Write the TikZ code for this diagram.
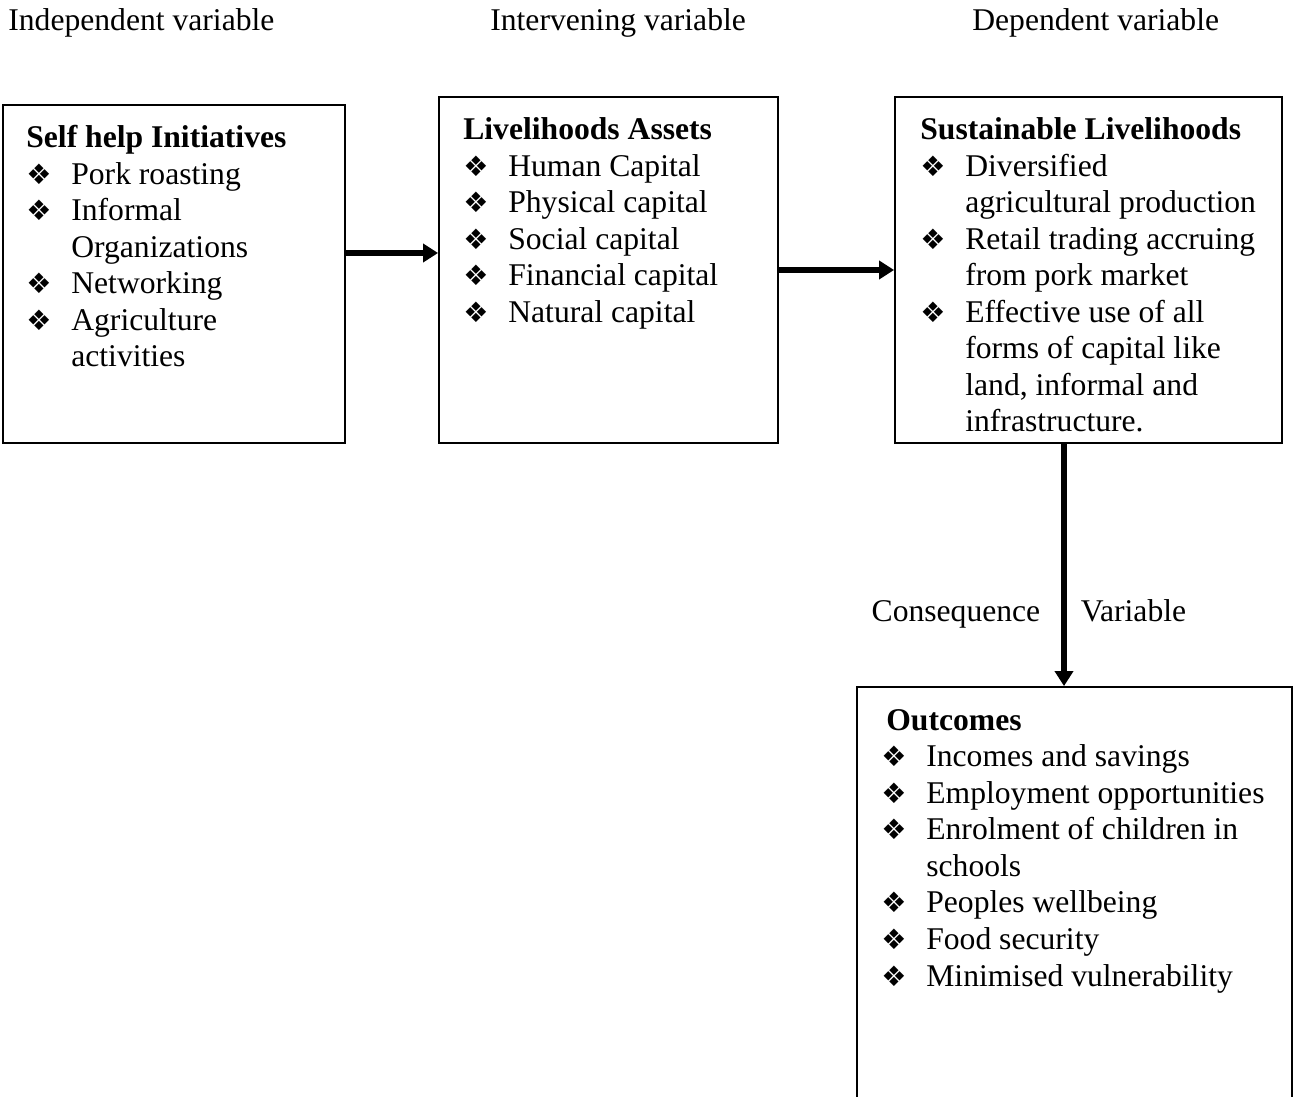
\documentclass[tikz,border=0pt]{standalone}
\usepackage{fontspec}
\setmainfont{Liberation Serif}
\newfontfamily\dingfont{DejaVu Sans}
\usetikzlibrary{positioning,arrows.meta}

\newcommand{\bul}{\makebox[0.9cm][l]{\dingfont\fontsize{16}{16}\selectfont ❖}}
\newcommand{\ind}{\hspace*{0.9cm}}

\begin{document}
\begin{tikzpicture}[
    x=0.02cm, y=-0.02cm,
    box/.style={draw, line width=1.1pt, inner sep=0pt},
    txt/.style={anchor=base west, inner sep=0pt, align=left, font=\fontsize{18}{20.8}\selectfont},
    head/.style={anchor=base west, inner sep=0pt, font=\fontsize{18}{20.8}\selectfont},
    link/.style={line width=0.11cm, -{Triangle[length=0.3cm, width=0.36cm]}}
]
\useasboundingbox (0,0) rectangle (1298,1097);

% Column headings
\node[head] (indep) at (8,31) {Independent variable};
\node[head] (interv) at (490,31) {Intervening variable};
\node[head] (dep) at (972,31) {Dependent variable};

% Boxes
\node[box, minimum width=6.84cm, minimum height=6.76cm] (SHI) at (174,274) {};
\node[box, minimum width=6.78cm, minimum height=6.92cm] (LA) at (608.5,270) {};
\node[box, minimum width=7.74cm, minimum height=6.92cm] (SL) at (1088.5,270) {};
\node[box, minimum width=8.70cm, minimum height=8.46cm] (OUT) at (1074.5,898.5) {};

% Box contents (placed at the baseline of their last line)
\node[txt] (SHItxt) at (26,367) {\textbf{Self help Initiatives}\\
    \bul Pork roasting\\
    \bul Informal\\
    \ind Organizations\\
    \bul Networking\\
    \bul Agriculture\\
    \ind activities};

\node[txt] (LAtxt) at (463,322.5) {\textbf{Livelihoods Assets}\\
    \bul Human Capital\\
    \bul Physical capital\\
    \bul Social capital\\
    \bul Financial capital\\
    \bul Natural capital};

\node[txt] (SLtxt) at (920,432) {\textbf{Sustainable Livelihoods}\\
    \bul Diversified\\
    \ind agricultural production\\
    \bul Retail trading accruing\\
    \ind from pork market\\
    \bul Effective use of all\\
    \ind forms of capital like\\
    \ind land, informal and\\
    \ind infrastructure.};

\node[txt] (OUTtxt) at (881,986) {\hspace*{0.1cm}\textbf{Outcomes}\\
    \bul Incomes and savings\\
    \bul Employment opportunities\\
    \bul Enrolment of children in\\
    \ind schools\\
    \bul Peoples wellbeing\\
    \bul Food security\\
    \bul Minimised vulnerability};

% Arrows between boxes
\draw[link] ([yshift=0.42cm]SHI.east) -- ([yshift=0.42cm]SHI.east -| LA.west);
\draw[link] (LA) -- (SL);
\draw[link] ([xshift=-0.49cm]SL.south) -- ([xshift=-0.49cm]SL.south |- OUT.north)
    node[head, pos=0.734, anchor=base east, xshift=-0.42cm] (cons) {Consequence}
    node[head, pos=0.734, xshift=0.28cm] (var) {Variable};

\end{tikzpicture}
\end{document}
